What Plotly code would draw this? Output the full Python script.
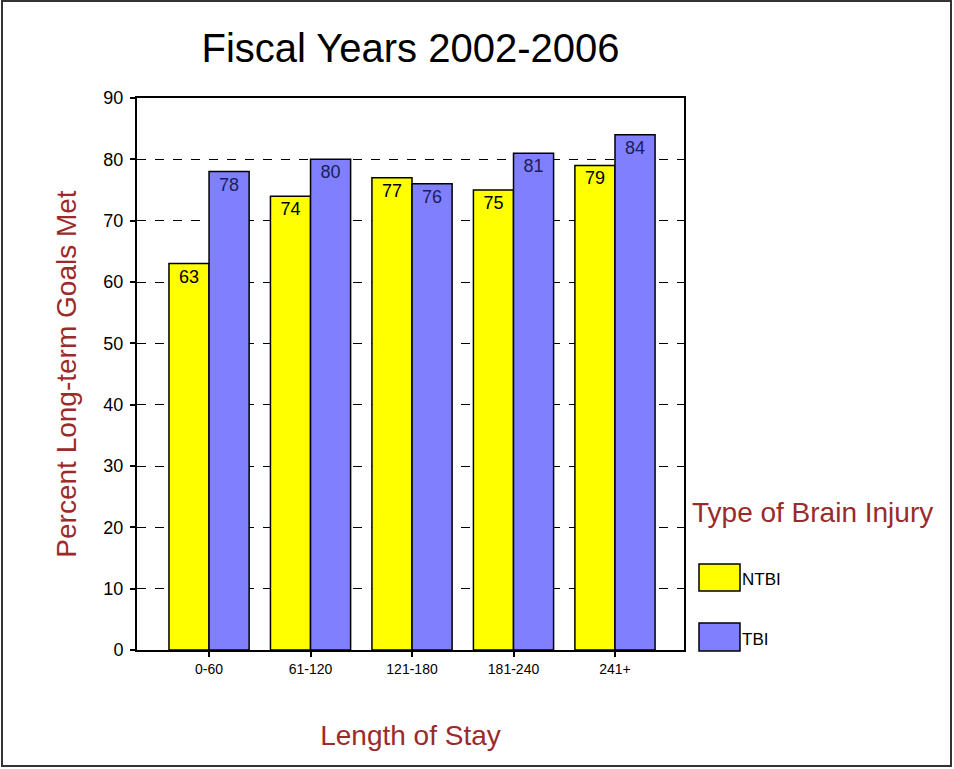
import plotly.graph_objects as go

categories = ["0-60", "61-120", "121-180", "181-240", "241+"]
ntbi = [63, 74, 77, 75, 79]
tbi = [78, 80, 76, 81, 84]
y_ticks = [0, 10, 20, 30, 40, 50, 60, 70, 80, 90]
series_names = ["NTBI", "TBI"]

W, H = 954, 769
L, R, T, B = 137, 684, 98, 650  # plot area in pixels
FONT = "Arial, Liberation Sans, sans-serif"
DARKRED = "#9B2A2A"
YELLOW = "#FFFF00"
BLUE = "#8080FF"

def px(x):
    return (x - L) / (R - L)

def py(y):
    return (B - y) / (B - T)

fig = go.Figure()
fig.add_trace(go.Bar(
    x=categories, y=ntbi, name=series_names[0],
    marker=dict(color=YELLOW, line=dict(color="black", width=1.5)),
    text=[str(v) for v in ntbi], textposition="inside", insidetextanchor="end",
    textfont=dict(family=FONT, size=18, color="black"), textangle=0,
    showlegend=False,
))
fig.add_trace(go.Bar(
    x=categories, y=tbi, name=series_names[1],
    marker=dict(color=BLUE, line=dict(color="black", width=1.5)),
    text=[str(v) for v in tbi], textposition="inside", insidetextanchor="end",
    textfont=dict(family=FONT, size=18, color="#1c1c5a"), textangle=0,
    showlegend=False,
))

shapes = []
annotations = []
# legend (drawn manually to match box size)
legend_items = [(series_names[0], YELLOW, 564, 591), (series_names[1], BLUE, 623, 651)]
for name, col, y0, y1 in legend_items:
    shapes.append(dict(type="rect", xref="paper", yref="paper",
                       x0=px(699), x1=px(740), y0=py(y1), y1=py(y0),
                       fillcolor=col, line=dict(color="black", width=1.5)))
    annotations.append(dict(text=name, xref="paper", yref="paper",
                            x=px(740), y=py((y0 + y1) / 2 + 2), xanchor="left", yanchor="middle",
                            showarrow=False, font=dict(family=FONT, size=17, color="black")))
annotations.append(dict(text="Type of Brain Injury", xref="paper", yref="paper",
                        x=px(690), y=py(512), xanchor="left", yanchor="middle",
                        showarrow=False, font=dict(family=FONT, size=28, color=DARKRED)))
# outer frame
shapes.append(dict(type="rect", xref="paper", yref="paper",
                   x0=px(2), x1=px(951), y0=py(766), y1=py(1),
                   line=dict(color="#333333", width=2), layer="below"))

fig.update_layout(
    width=W, height=H,
    margin=dict(l=L, r=W - R, t=T, b=H - B, pad=0),
    paper_bgcolor="white", plot_bgcolor="white",
    barmode="group", bargap=0.21, bargroupgap=0,
    title=dict(text="Fiscal Years 2002-2006", x=0.5, xref="paper", xanchor="center",
               y=1 - 48 / H, yanchor="middle",
               font=dict(family=FONT, size=40, color="black")),
    font=dict(family=FONT, color="black"),
    shapes=shapes, annotations=annotations,
    xaxis=dict(
        range=[-0.71, 4.68], showline=True, linecolor="black", linewidth=2, mirror=True,
        ticks="outside", ticklen=5, tickwidth=2, tickcolor="black",
        tickfont=dict(family=FONT, size=14, color="black"),
        title=dict(text="Length of Stay", font=dict(family=FONT, size=28, color=DARKRED), standoff=50),
        showgrid=False,
    ),
    yaxis=dict(
        range=[0, 90], tickvals=y_ticks, showline=True, linecolor="black", linewidth=2, mirror=True,
        ticks="outside", ticklen=5, tickwidth=2, tickcolor="black",
        tickfont=dict(family=FONT, size=18, color="black"), ticklabelstandoff=3,
        showgrid=True, gridcolor="black", gridwidth=1, griddash="dash",
        zeroline=False,
        title=dict(text="Percent Long-term Goals Met", font=dict(family=FONT, size=28, color=DARKRED), standoff=19),
    ),
)

fig.write_html("out.html", config={"displayModeBar": False},
               post_script="document.body.style.margin='0';document.body.style.padding='0';")
